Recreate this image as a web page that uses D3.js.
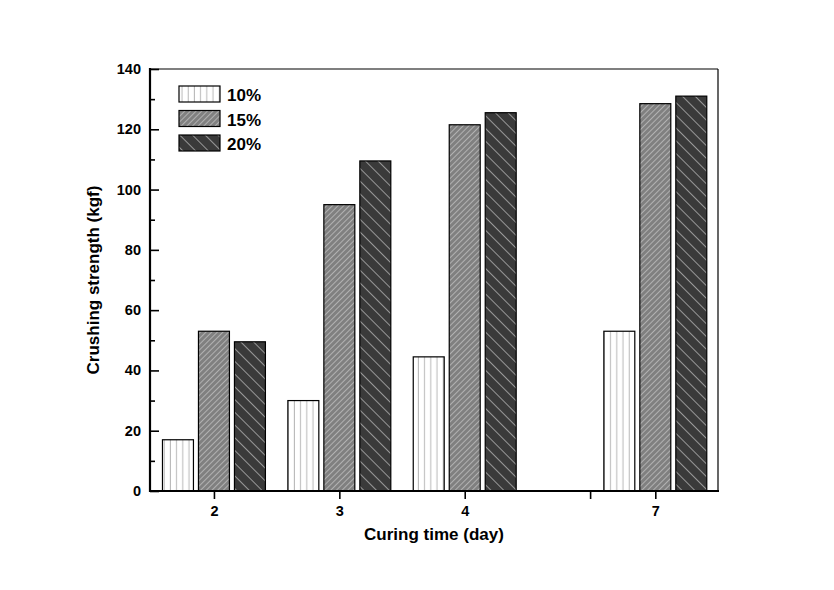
<!DOCTYPE html>
<html><head><meta charset="utf-8">
<script src="https://cdn.jsdelivr.net/npm/d3@7"></script>
<style>body{margin:0;background:#fff}svg{display:block}text{font-family:"Liberation Sans",Arial,sans-serif;font-weight:bold;fill:#000}</style>
</head><body><svg id="c" width="834" height="590"></svg>
<script>
const categories = ["2", "3", "4", "7"];
const categoryPos = [2, 3, 4, 5.52];
const series = ["10%", "15%", "20%"];
const values10 = [17, 30, 44.5, 53];
const values15 = [53, 95, 121.5, 128.5];
const values20 = [49.5, 109.5, 125.5, 131];
const xTickValues = [2, 3, 4, 5, 5.52];
const xTickLabels = ["2", "3", "4", "", "7"];
const yTicks = [0, 20, 40, 60, 80, 100, 120, 140];
const yMinorTicks = [10, 30, 50, 70, 90, 110, 130];

const svg = d3.select("#c");
const L = 150, R = 718, T = 69, B = 491;
const x = d3.scaleLinear().domain([1.49, 6.02]).range([L, R]);
const y = d3.scaleLinear().domain([0, 140]).range([B, T]);

const defs = svg.append("defs");
let p = defs.append("pattern").attr("id","p10").attr("patternUnits","userSpaceOnUse").attr("width",6.2).attr("height",10);
p.append("rect").attr("width",6.2).attr("height",10).attr("fill","#fff");
p.append("line").attr("x1",3).attr("x2",3).attr("y1",0).attr("y2",10).attr("stroke","#b8b8b8").attr("stroke-width",1);
p = defs.append("pattern").attr("id","p15").attr("patternUnits","userSpaceOnUse").attr("width",4).attr("height",4).attr("patternTransform","rotate(45)");
p.append("rect").attr("width",4).attr("height",4).attr("fill","#808080");
p.append("line").attr("x1",0).attr("x2",0).attr("y1",0).attr("y2",4).attr("stroke","#cccccc").attr("stroke-width",1.3);
p = defs.append("pattern").attr("id","p20").attr("patternUnits","userSpaceOnUse").attr("width",9).attr("height",9).attr("patternTransform","rotate(-45)");
p.append("rect").attr("width",9).attr("height",9).attr("fill","#3a3a3a");
p.append("line").attr("x1",0).attr("x2",0).attr("y1",0).attr("y2",9).attr("stroke","#e6e6e6").attr("stroke-width",1.1);

const fills = ["url(#p10)", "url(#p15)", "url(#p20)"];
const allVals = [values10, values15, values20];
const unit = x(3) - x(2);
const barW = unit * 0.247, off = unit * 0.287;

allVals.forEach((vals, si) => {
  svg.append("g").selectAll("rect").data(vals).join("rect")
    .attr("x", (d, i) => x(categoryPos[i]) + (si - 1) * off - barW / 2)
    .attr("y", d => y(d))
    .attr("width", barW)
    .attr("height", d => B - y(d))
    .attr("fill", fills[si])
    .attr("stroke", "#000").attr("stroke-width", 1.2);
});

svg.append("line").attr("x1",L).attr("x2",R).attr("y1",T).attr("y2",T).attr("stroke","#000").attr("stroke-width",1.2);
svg.append("line").attr("x1",R).attr("x2",R).attr("y1",T).attr("y2",B).attr("stroke","#000").attr("stroke-width",1.2);

const yAxis = svg.append("g").attr("transform",`translate(${L},0)`)
  .call(d3.axisRight(y).tickValues(yTicks).tickSize(9).tickFormat(""));
yAxis.select(".domain").remove();
yAxis.selectAll("line").attr("stroke","#000").attr("stroke-width",1.6);
svg.append("g").attr("transform",`translate(${L},0)`)
  .call(d3.axisRight(y).tickValues(yMinorTicks).tickSize(5).tickFormat(""))
  .call(g => { g.select(".domain").remove(); g.selectAll("line").attr("stroke","#000").attr("stroke-width",1.6); });
svg.append("g").selectAll("text").data(yTicks).join("text")
  .attr("x", L - 9).attr("y", d => y(d) + 5).attr("text-anchor","end").attr("font-size",14.5).text(d => d);
svg.append("line").attr("x1",L).attr("x2",L).attr("y1",T-1).attr("y2",B+1).attr("stroke","#000").attr("stroke-width",2.2);

const xAxis = svg.append("g").attr("transform",`translate(0,${B})`)
  .call(d3.axisBottom(x).tickValues(xTickValues).tickSize(8).tickFormat((d, i) => xTickLabels[i]));
xAxis.select(".domain").remove();
xAxis.selectAll("line").attr("stroke","#000").attr("stroke-width",1.6);
xAxis.selectAll("text").attr("font-size",14.5).attr("dy","0.95em").attr("font-family","'Liberation Sans',Arial,sans-serif").attr("font-weight","bold");
svg.append("line").attr("x1",L-1).attr("x2",R+1).attr("y1",B).attr("y2",B).attr("stroke","#000").attr("stroke-width",2.2);

svg.append("text").attr("x",(L+R)/2).attr("y",540).attr("text-anchor","middle").attr("font-size",17).text("Curing time (day)");
svg.append("text").attr("transform",`translate(99,${(T+B)/2}) rotate(-90)`).attr("text-anchor","middle").attr("font-size",17).text("Crushing strength (kgf)");

const lg = svg.append("g").selectAll("g").data(series).join("g")
  .attr("transform",(d,i)=>`translate(179,${86 + i*24.5})`);
lg.append("rect").attr("width",41).attr("height",16).attr("fill",(d,i)=>fills[i]).attr("stroke","#000").attr("stroke-width",1.2);
lg.append("text").attr("x",48).attr("y",15).attr("font-size",17).text(d=>d);
</script></body></html>
